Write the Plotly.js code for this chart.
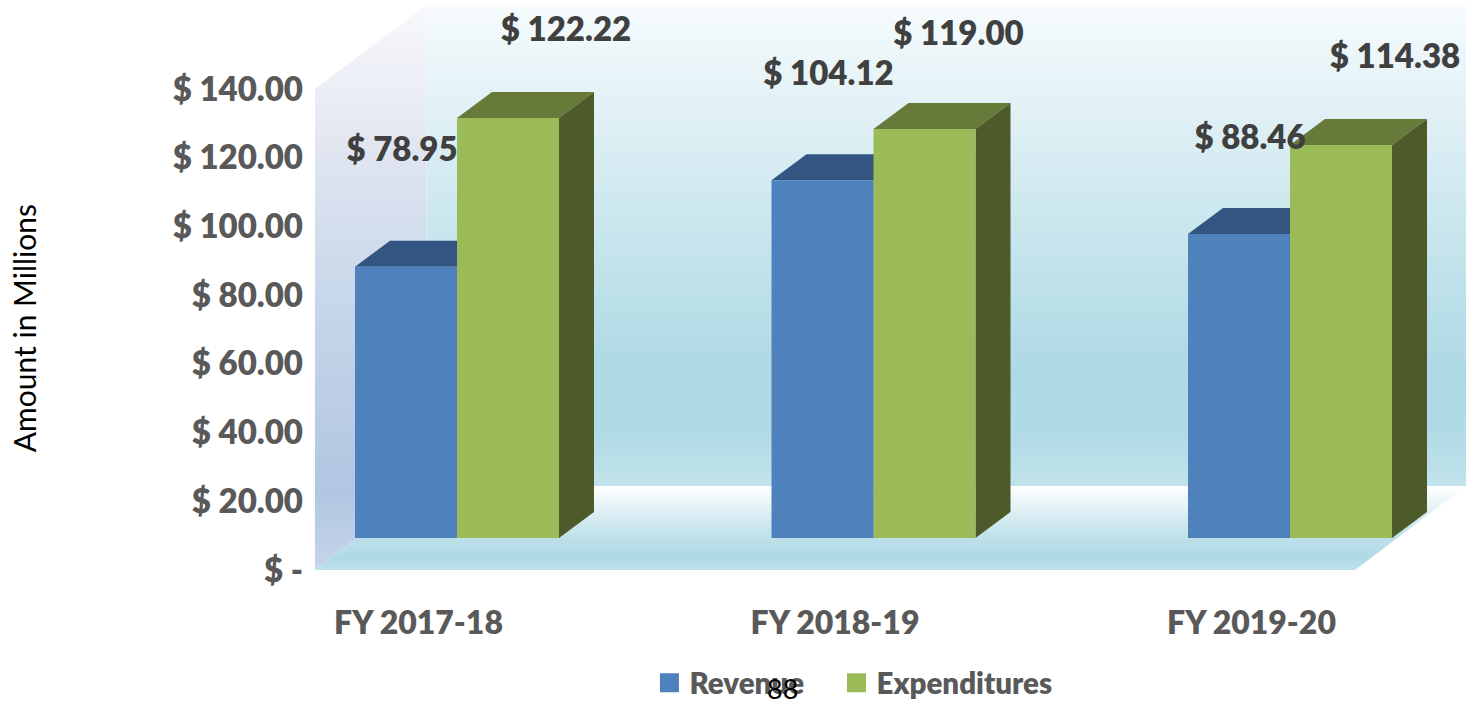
<!DOCTYPE html>
<html>
<head>
<meta charset="utf-8">
<script src="https://cdn.plot.ly/plotly-3.0.1.min.js"></script>
<style>html,body{margin:0;padding:0;background:#fff}#chart{width:1466px;height:702px}</style>
</head>
<body>
<div id="chart"></div>
<script>
var categories = ['FY 2017-18', 'FY 2018-19', 'FY 2019-20'];
var revenue = [78.95, 104.12, 88.46];
var expenditures = [122.22, 119.00, 114.38];
var revenueLabels = ['$ 78.95', '$ 104.12', '$ 88.46'];
var expenditureLabels = ['$ 122.22', '$ 119.00', '$ 114.38'];
var yTickValues = [0, 20, 40, 60, 80, 100, 120, 140];
var yTickLabels = ['$ -', '$ 20.00', '$ 40.00', '$ 60.00', '$ 80.00', '$ 100.00', '$ 120.00', '$ 140.00'];

// layout of the fake 3D box, in axis units (1 x unit = one category step)
var pxX = 416.5, pxY = 3.436;
var plotL = 315, plotR = 1466, plotT = 2, plotB = 570;
var xOrigin = 457;                 // pixel of category 0 centre
var xMin = (plotL - xOrigin) / pxX, xMax = (plotR - xOrigin) / pxX;
var yMax = (plotB - plotT) / pxY;
var base = 32 / pxY;               // bars stand forward of the wall foot
var barW = 102 / pxX;
var dx = 35 / pxX, dy = 26 / pxY;  // bar depth
var wallDx = 111.5 / pxX, wallDy = 84 / pxY;
var wallTop = 140, backTop = 565 / pxY;
var floorR = (1355 - xOrigin) / pxX;
var revLabelDx = [-4, 6, 11], revLabelDy = [114, 103, 93];
var expLabelDx = [58, 34, 54], expLabelDy = [85, 92, 85];

function poly(xs, ys, fill, grad) {
  var t = {x: xs.concat(xs[0]), y: ys.concat(ys[0]), mode: 'lines', line: {width: 0},
           fill: 'toself', hoverinfo: 'skip', showlegend: false, type: 'scatter'};
  if (grad) t.fillgradient = grad; else t.fillcolor = fill;
  return t;
}
function vGrad(stops) { return {type: 'vertical', colorscale: stops}; }

var traces = [];
// back wall
traces.push(poly([xMin + wallDx, xMax, xMax, xMin + wallDx],
  [wallDy, wallDy, backTop, backTop], null,
  vGrad([[0, '#c2e3eb'], [0.116, '#b0dae6'], [0.24, '#aed9e5'], [0.49, '#c5e4ec'], [0.76, '#dff0f5'], [1, '#f6fbfd']])));
// left wall
traces.push(poly([xMin, xMin + wallDx, xMin + wallDx, xMin],
  [0, wallDy, backTop, wallTop], null,
  vGrad([[0, '#c5d5ea'], [0.14, '#b1c6e1'], [0.5, '#c9d8ea'], [0.75, '#e1e6f1'], [1, '#f9f9fc']])));
// floor
traces.push(poly([xMin, floorR, xMax, xMin + wallDx],
  [0, 0, wallDy, wallDy], null,
  vGrad([[0, '#bde1e9'], [0.15, '#aedae6'], [0.4, '#bfe1ea'], [0.7, '#dff0f5'], [1, '#ffffff']])));

function sideFaces(values, offset, topColor, sideColor) {
  values.forEach(function (v, i) {
    var l = i + offset, r = l + barW, t = base + v;
    traces.push(poly([l, r, r + dx, l + dx], [t, t, t + dy, t + dy], topColor));
    traces.push(poly([r, r + dx, r + dx, r], [base, base + dy, t + dy, t], sideColor));
  });
}
function barTrace(name, values, offset, color) {
  return {type: 'bar', name: name, xaxis: 'x2', yaxis: 'y2', showlegend: false,
    x: categories.map(function (c, i) { return i + offset + barW / 2; }),
    y: values, base: values.map(function () { return base; }), width: barW,
    marker: {color: color, line: {width: 0}}, hoverinfo: 'y'};
}
function legendKey(name, color, legendId) {
  return {type: 'scatter', mode: 'markers', name: name, legend: legendId, x: [null], y: [null], hoverinfo: 'skip',
    marker: {symbol: 'square', size: 16, color: color, line: {width: 3, color: color}}};
}
function labelTrace(values, labels, offset, ldx, ldy) {
  return {type: 'scatter', mode: 'text', showlegend: false, hoverinfo: 'skip', xaxis: 'x2', yaxis: 'y2',
    x: values.map(function (v, i) { return i + offset + barW / 2 + ldx[i] / pxX; }),
    y: values.map(function (v, i) { return base + v + ldy[i] / pxY; }),
    text: labels, textposition: 'middle center',
    textfont: {family: 'Lato, sans-serif', size: 33, color: '#404040', weight: 800}};
}

sideFaces(revenue, -barW, '#335581', '#2d4a70');
sideFaces(expenditures, 0, '#687a39', '#4d5b2b');
traces.push(legendKey('Revenue', '#4f81bd', 'legend'));
traces.push(legendKey('Expenditures', '#9bbb59', 'legend2'));
traces.push(barTrace('Revenue', revenue, -barW, '#4f81bd'));
traces.push(barTrace('Expenditures', expenditures, 0, '#9bbb59'));
traces.push(labelTrace(revenue, revenueLabels, -barW, revLabelDx, revLabelDy));
traces.push(labelTrace(expenditures, expenditureLabels, 0, expLabelDx, expLabelDy));

var labelFont = {family: 'Lato, sans-serif', size: 33, color: '#595959', weight: 800};
var catFont = {family: 'Lato, sans-serif', size: 32, color: '#595959', weight: 800};
var legendFont = {family: 'Lato, sans-serif', size: 29.5, color: '#595959', weight: 800};
var layout = {
  width: 1466, height: 702,
  margin: {l: plotL, r: 1466 - plotR, t: plotT, b: 702 - plotB, pad: 0},
  paper_bgcolor: '#ffffff', plot_bgcolor: 'rgba(0,0,0,0)',
  barmode: 'overlay', showlegend: true,
  xaxis: {range: [xMin, xMax], showgrid: false, zeroline: false, showline: false,
    tickmode: 'array', tickvals: categories.map(function (c, i) { return i - 38.5 / pxX; }),
    ticktext: categories, ticks: '', ticklabelstandoff: 31, tickfont: catFont, fixedrange: true},
  yaxis: {range: [0, yMax], showgrid: false, zeroline: false, showline: false,
    tickmode: 'array', tickvals: yTickValues, ticktext: yTickLabels, ticks: '',
    ticklabelstandoff: 11, tickfont: labelFont, fixedrange: true},
  xaxis2: {overlaying: 'x', range: [xMin, xMax], visible: false, fixedrange: true},
  yaxis2: {overlaying: 'y', range: [0, yMax], visible: false, fixedrange: true},
  legend: {orientation: 'h', x: 0.443, xanchor: 'left', y: 0.027, yanchor: 'middle', xref: 'container', yref: 'container',
    font: legendFont, bgcolor: 'rgba(0,0,0,0)'},
  legend2: {orientation: 'h', x: 0.5706, xanchor: 'left', y: 0.027, yanchor: 'middle', xref: 'container', yref: 'container',
    font: legendFont, bgcolor: 'rgba(0,0,0,0)'},
  annotations: [
    {xref: 'paper', yref: 'paper', x: -0.2532, y: 0.425, xanchor: 'center', yanchor: 'middle', text: 'Amount in Millions', textangle: -90, showarrow: false,
     font: {family: 'Lato, sans-serif', size: 30, color: '#000000'}},
    {xref: 'x', yref: 'paper', x: (782 - xOrigin) / pxX, y: -0.209, xanchor: 'center', yanchor: 'middle', text: '88', showarrow: false,
     font: {family: 'Lato, sans-serif', size: 27, color: '#000000'}}
  ]
};
Plotly.newPlot('chart', traces, layout, {displayModeBar: false, responsive: false});
</script>
</body>
</html>
